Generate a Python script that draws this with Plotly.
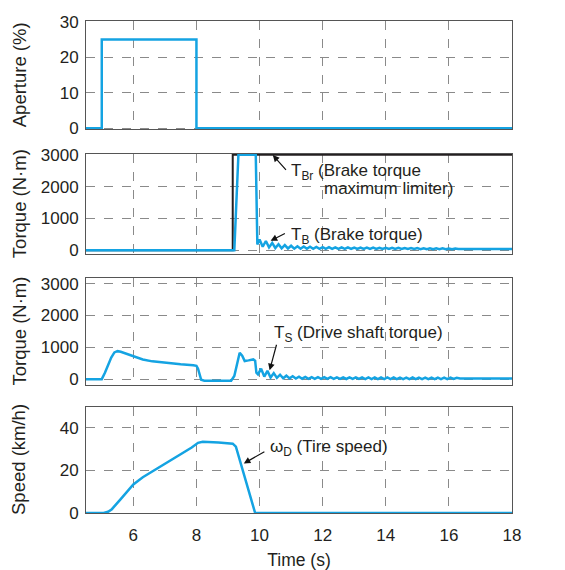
import plotly.graph_objects as go
from plotly.subplots import make_subplots

# ---------------- data ----------------
aperture_t = [4.5, 5.0, 5.0, 8.0, 8.0, 18.0]
aperture_v = [0, 0, 25, 25, 0, 0]

brake_limit_t = [4.5, 9.15, 9.15, 18.0]
brake_limit_v = [0, 0, 3000, 3000]

brake_t = [4.5, 9.2, 9.33, 9.88, 9.93, 10.0, 10.1, 10.2, 10.3, 10.4, 10.5, 10.6, 10.7, 10.8, 10.9,
           11.0, 11.1, 11.2, 11.3, 11.4, 11.5, 11.6, 11.7, 11.8, 11.9, 12.0, 12.1, 12.2, 12.3, 12.4,
           12.5, 12.6, 12.7, 12.8, 12.9, 13.0, 13.1, 13.2, 13.3, 13.4, 13.5, 13.6, 13.7, 13.8, 13.9,
           14.0, 14.1, 14.2, 14.3, 14.4, 14.5, 14.6, 14.7, 14.8, 14.9, 15.0, 15.1, 15.2, 15.3, 15.4,
           15.5, 15.6, 15.7, 15.8, 15.9, 16.0, 16.1, 16.2, 16.3, 18.0]
brake_v = [0, 0, 3000, 3000, 180, 340, 110, 290, 90, 230, 70, 190, 60, 160, 55,
           140, 50, 125, 48, 115, 46, 108, 45, 102, 44, 98, 43, 95, 42, 92,
           42, 90, 41, 88, 41, 86, 40, 84, 40, 82, 40, 80, 39, 78, 39,
           76, 38, 74, 38, 72, 38, 70, 37, 68, 37, 66, 36, 64, 36, 62,
           35, 60, 35, 58, 35, 56, 34, 52, 40, 40]

shaft_t = [4.5, 5.0, 5.1, 5.2, 5.3, 5.4, 5.5, 5.6, 5.8, 6.0, 6.3, 6.6, 7.0, 7.5, 7.9, 8.0, 8.05,
           8.1, 8.15, 8.25, 9.1, 9.2, 9.3, 9.37, 9.45, 9.53, 9.65, 9.8, 9.86, 9.9, 9.95,
           10.05, 10.15, 10.25, 10.35, 10.45, 10.55, 10.65, 10.75, 10.85, 10.95, 11.05, 11.15,
           11.25, 11.35, 11.45, 11.55, 11.65, 11.75, 11.85, 11.95, 12.05, 12.15, 12.25, 12.35,
           12.45, 12.55, 12.65, 12.75, 12.85, 12.95, 13.05, 13.15, 13.25, 13.35, 13.45, 13.55,
           13.65, 13.75, 13.85, 13.95, 14.05, 14.15, 14.25, 14.35, 14.45, 14.55, 14.65, 14.75,
           14.85, 14.95, 15.05, 15.15, 15.25, 15.35, 15.45, 15.55, 15.65, 15.75, 15.85, 15.95,
           16.05, 16.15, 16.25, 16.35, 18.0]
shaft_v = [0, 0, 200, 450, 680, 840, 880, 860, 790, 710, 620, 560, 510, 470, 440, 420, 330,
           120, -20, -50, -50, 100, 600, 830, 740, 570, 590, 620, 580, 200, 150,
           330, 80, 260, 50, 190, 40, 140, 30, 110, 25, 90, 20,
           80, 15, 70, 12, 65, 10, 62, 10, 60, 8, 60, 8,
           58, 8, 58, 6, 56, 6, 56, 6, 55, 5, 55, 5,
           54, 5, 54, 5, 53, 4, 53, 4, 52, 4, 52, 4,
           52, 3, 51, 3, 51, 3, 50, 3, 50, 3, 50, 3,
           48, 5, 40, 20, 20]

speed_t = [4.5, 5.06, 5.2, 5.32, 5.6, 6.0, 6.3, 6.53, 7.05, 7.58, 7.85, 8.05, 8.2, 8.7, 9.15,
           9.25, 9.86, 18.0]
speed_v = [0, 0, 0.6, 1.8, 6.5, 13.4, 16.8, 18.9, 23.4, 28.2, 30.8, 33.0, 33.5, 33.2, 32.6,
           31.2, 0, 0]

x_ticks = [6, 8, 10, 12, 14, 16, 18]
y_titles = ["Aperture (%)", "Torque (N\u00b7m)", "Torque (N\u00b7m)", "Speed (km/h)"]

# ---------------- styles ----------------
BLUE = "#14a3e2"
FONT = "Liberation Sans, Arial, sans-serif"
TXT = "#231f20"
FS = 17
GRID = "#8a8a8a"
BORDER = "#555555"

fig = make_subplots(rows=4, cols=1, shared_xaxes=True)

fig.add_trace(go.Scatter(x=aperture_t, y=aperture_v, mode="lines",
                         line=dict(color=BLUE, width=2.5)), row=1, col=1)
fig.add_trace(go.Scatter(x=brake_limit_t, y=brake_limit_v, mode="lines",
                         line=dict(color="#231f20", width=2)), row=2, col=1)
fig.add_trace(go.Scatter(x=brake_t, y=brake_v, mode="lines",
                         line=dict(color=BLUE, width=2.5)), row=2, col=1)
fig.add_trace(go.Scatter(x=shaft_t, y=shaft_v, mode="lines",
                         line=dict(color=BLUE, width=2.5)), row=3, col=1)
fig.add_trace(go.Scatter(x=speed_t, y=speed_v, mode="lines",
                         line=dict(color=BLUE, width=2.5)), row=4, col=1)

domains = [[0.78, 1.0], [0.526, 0.73], [0.26, 0.478], [0.0, 0.216]]
yranges = [[-0.3, 30.2], [-125, 3030], [-186, 3186], [0, 50]]
ytickvals = [[0, 10, 20, 30], [0, 1000, 2000, 3000], [0, 1000, 2000, 3000], [0, 20, 40]]

for i in range(4):
    n = "" if i == 0 else str(i + 1)
    fig.layout["yaxis" + n].update(
        domain=domains[i], range=yranges[i], tickvals=ytickvals[i],
        showgrid=True, gridcolor=GRID, griddash="dash", gridwidth=1,
        zeroline=False, showline=True, linecolor=BORDER, linewidth=1, mirror=True,
        ticks="outside", ticklen=3, tickcolor="rgba(0,0,0,0)",
        tickfont=dict(family=FONT, size=FS, color=TXT),
    )
    fig.layout["xaxis" + n].update(
        range=[4.5, 18], tickvals=x_ticks,
        showgrid=True, gridcolor=GRID, griddash="dash", gridwidth=1,
        zeroline=False, showline=True, linecolor=BORDER, linewidth=1, mirror=True,
        ticks="outside", ticklen=7, tickcolor="rgba(0,0,0,0)",
        showticklabels=(i == 3),
        tickfont=dict(family=FONT, size=FS, color=TXT),
    )
    fig.add_annotation(text=y_titles[i], xref="paper", yref="paper",
                       x=-0.157, y=(domains[i][0] + domains[i][1]) / 2,
                       textangle=-90, showarrow=False, xanchor="center", yanchor="middle",
                       font=dict(family=FONT, size=18.5, color=TXT))

fig.layout.xaxis4.title = dict(text="Time (s)", standoff=9,
                               font=dict(family=FONT, size=17.5, color=TXT))

# ---------- annotations ----------
def arrow(xr, yr, x, y, ax, ay):
    fig.add_annotation(xref=xr, yref=yr, axref=xr, ayref=yr, x=x, y=y, ax=ax, ay=ay,
                       text="", showarrow=True, arrowhead=2, arrowsize=1.1,
                       arrowwidth=1.2, arrowcolor="#111111", standoff=0)

def label(xr, yr, x, y, text):
    fig.add_annotation(xref=xr, yref=yr, x=x, y=y, text=text, showarrow=False,
                       xanchor="left", yanchor="middle",
                       font=dict(family=FONT, size=FS, color=TXT))

arrow("x2", "y2", 10.42, 2990, 10.88, 2480)
label("x2", "y2", 10.93, 2450, "T<sub>Br</sub> (Brake torque")
label("x2", "y2", 11.98, 1950, "maximum limiter)")

arrow("x2", "y2", 10.35, 300, 10.85, 550)
label("x2", "y2", 10.93, 440, "T<sub>B</sub> (Brake torque)")

arrow("x3", "y3", 10.32, 280, 10.55, 1130)
label("x3", "y3", 10.4, 1420, "T<sub>S</sub> (Drive shaft torque)")

arrow("x4", "y4", 9.5, 23.3, 10.2, 29.2)
label("x4", "y4", 10.26, 30.8, "\u03c9<sub>D</sub> (Tire speed)")

# page has an 8 px body margin; margins are chosen so the plot area lands
# at x 86..512 and y 13..513 of the window
fig.update_layout(
    width=565, height=570,
    margin=dict(l=78, r=61, t=5, b=65),
    paper_bgcolor="white", plot_bgcolor="white",
    showlegend=False,
    font=dict(family=FONT, size=FS, color=TXT),
)

fig.write_html("out.html")
